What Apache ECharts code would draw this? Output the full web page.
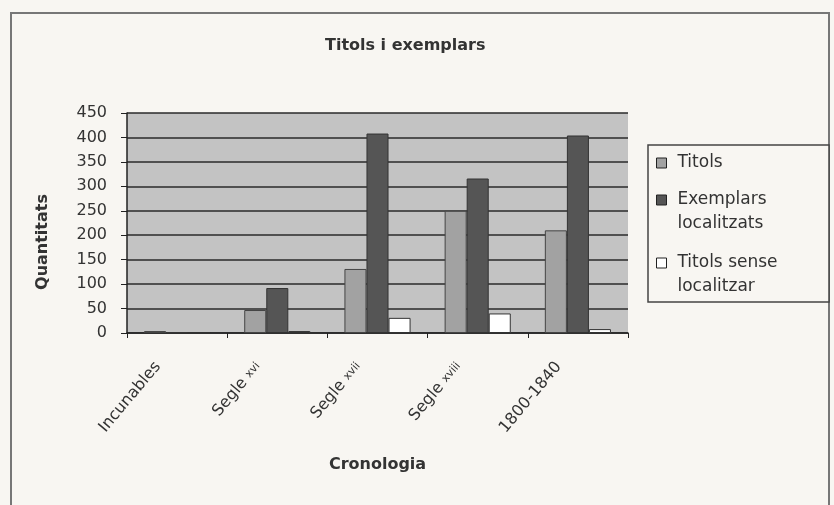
<!DOCTYPE html>
<html>
<head>
<meta charset="utf-8">
<script src="https://cdn.jsdelivr.net/npm/echarts@6/dist/echarts.min.js"></script>
<style>
html,body{margin:0;padding:0;background:#f8f6f2;}
#c{width:834px;height:505px;}
</style>
</head>
<body>
<div id="c"></div>
<script>
var categories = ['Incunables', 'Segle xvi', 'Segle xvii', 'Segle xviii', '1800-1840'];
var titols = [4, 47, 131, 250, 210];
var exemplars = [2, 92, 408, 316, 404];
var senseLocalitzar = [0, 4, 31, 40, 8];
var seriesNames = ['Titols', 'Exemplars localitzats', 'Titols sense localitzar'];
var yTicks = [0, 50, 100, 150, 200, 250, 300, 350, 400, 450];

var FONT = 'DejaVu Sans';
var chart = echarts.init(document.getElementById('c'), null, {renderer: 'canvas'});

function legendLabel(n) {
  if (n.indexOf(' localitz') >= 0) {
    return '\n' + n.replace(' localitz', '\nlocalitz');
  }
  return n;
}
function mkLegend(name, top) {
  return {
    data: [name],
    orient: 'vertical',
    left: 656,
    top: top,
    padding: 0,
    itemWidth: 10,
    itemHeight: 10,
    icon: 'rect',
    selectedMode: false,
    formatter: legendLabel,
    textStyle: {
      fontFamily: FONT, fontSize: 17, color: '#333', lineHeight: 24,
      padding: [0, 0, 0, 6]
    },
    itemStyle: {borderColor: '#222', borderWidth: 1}
  };
}

var option = {
  backgroundColor: '#f8f6f2',
  animation: false,
  title: {
    text: 'Titols i exemplars',
    left: 320, top: 33,
    textStyle: {fontFamily: FONT, fontSize: 16, fontWeight: 'bold', color: '#333'}
  },
  graphic: [
    {type: 'rect', shape: {x: 11, y: 13, width: 818, height: 520}, style: {fill: 'none', stroke: '#777', lineWidth: 2}, z: -1},
    {type: 'rect', shape: {x: 648, y: 145, width: 181, height: 157}, style: {fill: '#f8f6f2', stroke: '#444', lineWidth: 1.5}, z: -1}
  ],
  legend: [
    mkLegend(seriesNames[0], 151),
    mkLegend(seriesNames[1], 164),
    mkLegend(seriesNames[2], 227)
  ],
  grid: {left: 127, right: 206, top: 113, bottom: 172, show: true, backgroundColor: '#c3c3c3', borderWidth: 0},
  xAxis: {
    type: 'category',
    data: categories,
    name: 'Cronologia',
    nameLocation: 'middle',
    nameGap: 124,
    nameTextStyle: {fontFamily: FONT, fontSize: 16, fontWeight: 'bold', color: '#333'},
    axisLine: {lineStyle: {color: '#222', width: 1.5}},
    axisTick: {show: true, length: 5, lineStyle: {color: '#222'}},
    axisLabel: {
      rotate: 50,
      margin: 8,
      fontFamily: FONT, fontSize: 16, color: '#333',
      padding: [0, 30, 0, 0],
      formatter: function (v) { return v.replace(/ (x\w+)$/, ' {s|$1}'); },
      rich: {s: {fontFamily: FONT, fontSize: 11, color: '#333'}}
    }
  },
  yAxis: {
    type: 'value',
    min: 0, max: 450, interval: 50,
    name: 'Quantitats',
    nameLocation: 'middle',
    nameRotate: 90,
    nameGap: 76,
    nameTextStyle: {fontFamily: FONT, fontSize: 16, fontWeight: 'bold', color: '#333', padding: [0, 38, 0, 0]},
    axisLine: {show: true, lineStyle: {color: '#222', width: 1.5}},
    axisTick: {show: true, length: 6, lineStyle: {color: '#222'}},
    axisLabel: {
      margin: 20, fontFamily: FONT, fontSize: 16, color: '#333',
      formatter: function (v) { return yTicks.indexOf(v) >= 0 ? String(v) : ''; }
    },
    splitLine: {show: true, lineStyle: {color: '#2a2a2a', width: 1.5}}
  },
  series: [
    {name: seriesNames[0], type: 'bar', data: titols, barGap: '0%', barCategoryGap: '34%',
      itemStyle: {color: '#a2a2a2', borderColor: '#444', borderWidth: 1}},
    {name: seriesNames[1], type: 'bar', data: exemplars, barGap: '0%', barCategoryGap: '34%',
      itemStyle: {color: '#555555', borderColor: '#333', borderWidth: 1}},
    {name: seriesNames[2], type: 'bar', data: senseLocalitzar, barGap: '0%', barCategoryGap: '34%',
      itemStyle: {color: '#ffffff', borderColor: '#333', borderWidth: 1}}
  ]
};
chart.setOption(option);
</script>
</body>
</html>
